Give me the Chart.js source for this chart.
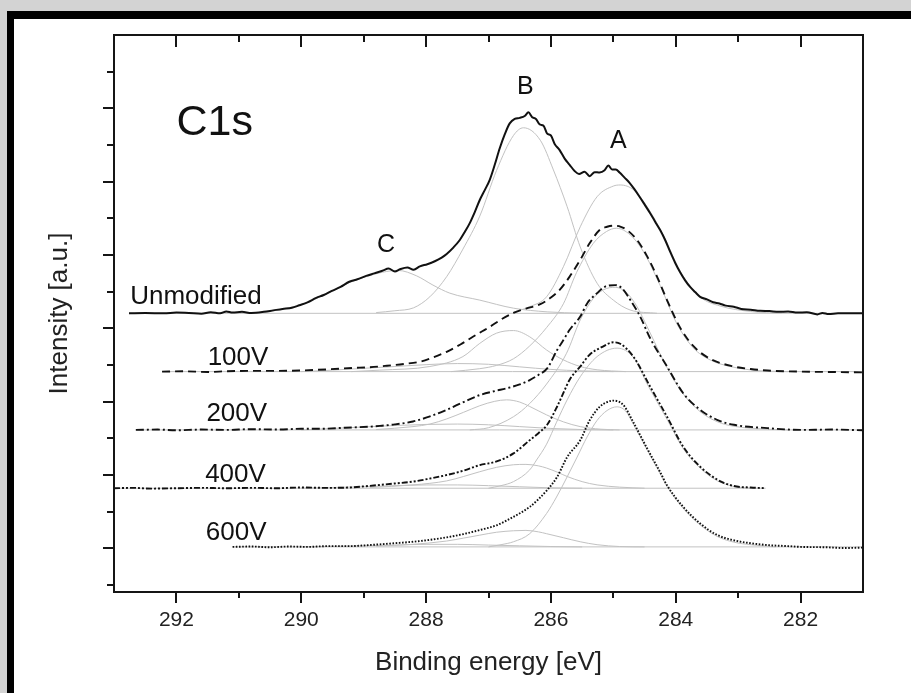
<!DOCTYPE html>
<html>
<head>
<meta charset="utf-8">
<script src="https://cdn.jsdelivr.net/npm/chart.js@4.4.1/dist/chart.umd.min.js"></script>
<style>
  html, body { margin: 0; padding: 0; background: #d3d3d3; }
  canvas { display: block; }
</style>
</head>
<body>
<canvas id="xps" width="911" height="693"></canvas>
<script>
// C1s spectra, binding energy [eV] vs intensity above each baseline [a.u.]
const spectrumNames = ['Unmodified', '100V', '200V', '400V', '600V'];
const spectrumOffsets = [6.41, 4.82, 3.23, 1.64, 0.04];
const peakNames = ['A', 'B', 'C'];
const xTickValues = [282, 284, 286, 288, 290, 292];

const unmodData = [
  [292.76, 0.00], [292.5, 0.01], [292.2, 0.00], [292.0, 0.02], [291.8, 0.01], [291.6, -0.01],
  [291.45, 0.03], [291.3, 0.00], [291.2, 0.05], [291.1, 0.02], [290.95, 0.04], [290.8, 0.01],
  [290.6, 0.04], [290.45, 0.08], [290.3, 0.12], [290.15, 0.15], [290.03, 0.22], [289.9, 0.30],
  [289.76, 0.42], [289.64, 0.50], [289.51, 0.61], [289.37, 0.72], [289.23, 0.86], [289.1, 0.93],
  [288.96, 1.02], [288.83, 1.09], [288.7, 1.16], [288.6, 1.22], [288.5, 1.14], [288.42, 1.20],
  [288.3, 1.25], [288.2, 1.19], [288.1, 1.28], [287.98, 1.34], [287.86, 1.42], [287.75, 1.52],
  [287.67, 1.62], [287.56, 1.80], [287.46, 2.00], [287.38, 2.22], [287.3, 2.46], [287.22, 2.76],
  [287.14, 3.09], [287.06, 3.36], [286.98, 3.64], [286.9, 4.05], [286.82, 4.50], [286.74, 4.88],
  [286.66, 5.18], [286.58, 5.30], [286.5, 5.33], [286.42, 5.38], [286.36, 5.48], [286.3, 5.35],
  [286.24, 5.30], [286.18, 5.15], [286.12, 5.12], [286.06, 4.90], [286.0, 4.85], [285.94, 4.62],
  [285.86, 4.45], [285.78, 4.22], [285.7, 4.05], [285.62, 3.88], [285.55, 3.80], [285.46, 3.86],
  [285.38, 3.74], [285.3, 3.85], [285.22, 3.84], [285.14, 3.90], [285.08, 4.03], [285.02, 3.92],
  [284.96, 3.92], [284.9, 3.84], [284.82, 3.70], [284.74, 3.56], [284.66, 3.38], [284.58, 3.18],
  [284.5, 2.97], [284.41, 2.73], [284.33, 2.50], [284.25, 2.27], [284.17, 2.00], [284.09, 1.68],
  [284.01, 1.38], [283.93, 1.12], [283.85, 0.90], [283.77, 0.72], [283.69, 0.58], [283.61, 0.45],
  [283.5, 0.38], [283.4, 0.30], [283.3, 0.27], [283.2, 0.21], [283.07, 0.18], [282.95, 0.12],
  [282.8, 0.10], [282.65, 0.07], [282.5, 0.06], [282.35, 0.04], [282.2, 0.05], [282.05, 0.02],
  [281.9, 0.03], [281.73, -0.03], [281.65, 0.01], [281.55, -0.02], [281.4, 0.00], [281.2, 0.00], [281.0, 0.00]
];
const unmodFitA = [
  [286.6, 0.03], [286.34, 0.18], [286.07, 0.45], [285.8, 1.27], [285.53, 2.36], [285.26, 3.18],
  [285.0, 3.47], [284.89, 3.50], [284.67, 3.36], [284.46, 2.91], [284.19, 2.10], [283.93, 1.15],
  [283.61, 0.45], [283.29, 0.20], [282.8, 0.05], [282.3, 0.00]
];
const unmodFitB = [
  [288.8, 0.02], [288.5, 0.07], [288.2, 0.15], [287.94, 0.45], [287.67, 1.00], [287.41, 1.75],
  [287.14, 2.65], [286.87, 3.90], [286.6, 4.85], [286.44, 5.06], [286.17, 4.72], [285.96, 3.91],
  [285.74, 2.91], [285.53, 1.81], [285.26, 0.82], [285.0, 0.36], [284.73, 0.09], [284.3, 0.00]
];
const unmodFitC = [
  [291.0, 0.00], [290.56, 0.03], [290.3, 0.12], [290.03, 0.22], [289.76, 0.40], [289.51, 0.60],
  [289.23, 0.84], [288.96, 1.00], [288.7, 1.12], [288.45, 1.17], [288.15, 1.02], [287.89, 0.77],
  [287.62, 0.55], [287.14, 0.36], [286.6, 0.14], [286.06, 0.04], [285.5, 0.00]
];

const v100Data = [
  [292.23, 0.00], [291.9, 0.01], [291.5, -0.01], [291.2, 0.01], [290.83, 0.02], [290.4, 0.02],
  [290.03, 0.03], [289.6, 0.06], [289.18, 0.10], [288.9, 0.12], [288.63, 0.16], [288.35, 0.21],
  [288.1, 0.27], [287.9, 0.38], [287.67, 0.54], [287.45, 0.74], [287.25, 0.95], [287.1, 1.10],
  [286.98, 1.22], [286.8, 1.42], [286.6, 1.60], [286.4, 1.72], [286.17, 1.84], [286.0, 2.02],
  [285.86, 2.23], [285.7, 2.59], [285.53, 3.05], [285.38, 3.50], [285.22, 3.86], [285.1, 3.95],
  [285.0, 3.98], [284.88, 3.95], [284.78, 3.86], [284.62, 3.59], [284.46, 3.15], [284.3, 2.59],
  [284.14, 1.95], [283.93, 1.20], [283.72, 0.70], [283.45, 0.35], [283.07, 0.14], [282.8, 0.07],
  [282.53, 0.03], [282.0, 0.00], [281.5, -0.01], [281.0, -0.02]
];
const v100FitA = [
  [287.6, 0.00], [287.14, 0.08], [286.87, 0.17], [286.6, 0.35], [286.34, 0.70], [286.07, 1.20],
  [285.8, 1.85], [285.59, 2.70], [285.32, 3.50], [285.11, 3.82], [284.95, 3.91], [284.73, 3.73],
  [284.52, 3.28], [284.25, 2.35], [283.98, 1.30], [283.72, 0.65], [283.45, 0.32], [283.1, 0.13],
  [282.7, 0.03], [282.2, 0.00]
];
const v100FitB = [
  [289.2, 0.00], [288.74, 0.04], [287.94, 0.14], [287.41, 0.41], [287.14, 0.77], [286.87, 1.05],
  [286.6, 1.12], [286.34, 0.95], [286.07, 0.59], [285.8, 0.32], [285.53, 0.14], [285.26, 0.05], [284.8, 0.00]
];
const v100FitC = [
  [290.0, 0.00], [289.5, 0.04], [289.0, 0.09], [288.5, 0.14], [288.0, 0.19], [287.5, 0.22],
  [287.0, 0.20], [286.5, 0.13], [286.0, 0.06], [285.5, 0.02], [285.0, 0.00]
];

const v200Data = [
  [292.65, 0.00], [292.3, 0.01], [292.0, -0.01], [291.6, 0.01], [291.2, 0.00], [290.8, 0.02],
  [290.4, 0.01], [290.0, 0.03], [289.71, 0.03], [289.3, 0.06], [288.9, 0.09], [288.74, 0.11],
  [288.5, 0.15], [288.21, 0.23], [287.95, 0.36], [287.67, 0.55], [287.4, 0.76], [287.14, 0.95],
  [286.9, 1.06], [286.7, 1.14], [286.5, 1.24], [286.34, 1.36], [286.2, 1.50], [286.06, 1.68],
  [285.9, 2.18], [285.8, 2.45], [285.7, 2.73], [285.53, 3.09], [285.42, 3.45], [285.26, 3.73],
  [285.13, 3.91], [284.97, 3.95], [284.86, 3.86], [284.73, 3.55], [284.57, 3.09], [284.41, 2.50],
  [284.14, 1.73], [283.88, 1.00], [283.61, 0.55], [283.33, 0.27], [283.07, 0.14], [282.53, 0.05],
  [282.0, 0.00], [281.5, 0.01], [281.0, -0.01]
];
const v200FitA = [
  [287.3, 0.00], [287.0, 0.06], [286.6, 0.36], [286.34, 0.72], [286.07, 1.25], [285.75, 2.09],
  [285.53, 3.00], [285.32, 3.59], [285.16, 3.82], [284.97, 3.89], [284.78, 3.73], [284.62, 3.36],
  [284.46, 2.82], [284.14, 1.70], [283.88, 0.98], [283.61, 0.50], [283.33, 0.22], [283.07, 0.10],
  [282.53, 0.02], [282.2, 0.00]
];
const v200FitB = [
  [288.8, 0.01], [288.21, 0.09], [287.94, 0.16], [287.67, 0.30], [287.4, 0.48], [287.14, 0.66],
  [286.9, 0.78], [286.71, 0.82], [286.5, 0.76], [286.34, 0.64], [286.07, 0.41], [285.8, 0.22],
  [285.53, 0.09], [285.2, 0.02], [284.9, 0.00]
];
const v200FitC = [
  [290.0, 0.00], [289.5, 0.04], [289.0, 0.08], [288.5, 0.12], [288.0, 0.15], [287.5, 0.16],
  [287.0, 0.14], [286.5, 0.09], [286.0, 0.04], [285.5, 0.01], [285.0, 0.00]
];

const v400Data = [
  [293.0, 0.00], [292.7, 0.01], [292.4, -0.01], [292.0, 0.00], [291.6, 0.01], [291.2, 0.00],
  [290.8, 0.01], [290.4, 0.00], [290.0, 0.02], [289.6, 0.01], [289.23, 0.02], [289.0, 0.05],
  [288.74, 0.09], [288.5, 0.13], [288.21, 0.18], [287.95, 0.26], [287.67, 0.36], [287.4, 0.48],
  [287.14, 0.63], [286.87, 0.73], [286.6, 0.95], [286.34, 1.31], [286.2, 1.50], [286.06, 1.73],
  [285.9, 2.23], [285.8, 2.60], [285.7, 2.96], [285.53, 3.32], [285.38, 3.64], [285.16, 3.87],
  [285.0, 3.98], [284.89, 3.94], [284.68, 3.59], [284.41, 2.77], [284.14, 1.95], [283.88, 1.13],
  [283.61, 0.59], [283.33, 0.23], [283.07, 0.06], [282.8, 0.02], [282.56, 0.00]
];
const v400FitA = [
  [287.0, 0.00], [286.8, 0.07], [286.6, 0.18], [286.34, 0.50], [286.23, 0.77], [286.07, 1.20],
  [285.91, 1.80], [285.74, 2.41], [285.53, 3.04], [285.26, 3.59], [284.94, 3.82], [284.67, 3.55],
  [284.46, 2.85], [284.14, 1.88], [283.88, 1.08], [283.61, 0.55], [283.33, 0.20], [283.07, 0.05], [282.8, 0.00]
];
const v400FitB = [
  [288.9, 0.02], [288.21, 0.09], [287.67, 0.20], [287.4, 0.32], [287.14, 0.45], [286.87, 0.57],
  [286.6, 0.64], [286.4, 0.65], [286.2, 0.61], [286.07, 0.55], [285.9, 0.44], [285.74, 0.32],
  [285.5, 0.18], [285.26, 0.09], [284.9, 0.03], [284.5, 0.00]
];
const v400FitC = [
  [290.0, 0.00], [289.0, 0.04], [288.5, 0.07], [288.0, 0.09], [287.5, 0.09], [287.0, 0.07],
  [286.5, 0.04], [286.0, 0.01], [285.5, 0.00]
];

const v600Data = [
  [291.1, 0.00], [290.8, 0.01], [290.5, -0.01], [290.2, 0.01], [289.9, 0.00], [289.6, 0.02],
  [289.23, 0.02], [289.0, 0.04], [288.74, 0.07], [288.5, 0.10], [288.21, 0.14], [287.95, 0.19],
  [287.67, 0.26], [287.4, 0.35], [287.14, 0.46], [286.87, 0.59], [286.6, 0.82], [286.34, 1.09],
  [286.2, 1.30], [286.06, 1.55], [285.9, 1.91], [285.74, 2.45], [285.53, 2.91], [285.38, 3.45],
  [285.22, 3.82], [285.1, 3.95], [285.0, 3.99], [284.84, 3.87], [284.68, 3.40], [284.46, 2.69],
  [284.25, 2.04], [284.14, 1.68], [283.88, 1.09], [283.61, 0.64], [283.33, 0.32], [283.07, 0.18],
  [282.8, 0.10], [282.53, 0.05], [282.2, 0.02], [282.0, 0.00], [281.6, -0.01], [281.3, -0.03], [281.0, -0.02]
];
const v600FitA = [
  [287.0, 0.00], [286.8, 0.06], [286.6, 0.14], [286.34, 0.36], [286.07, 0.91], [285.91, 1.36],
  [285.74, 1.91], [285.58, 2.45], [285.42, 3.00], [285.26, 3.45], [285.1, 3.72], [284.94, 3.82],
  [284.8, 3.70], [284.68, 3.35], [284.46, 2.65], [284.25, 2.00], [284.14, 1.65], [283.88, 1.05],
  [283.61, 0.60], [283.33, 0.28], [283.07, 0.13], [282.8, 0.06], [282.4, 0.00]
];
const v600FitB = [
  [288.8, 0.02], [288.21, 0.07], [287.67, 0.16], [287.4, 0.24], [287.14, 0.32], [286.87, 0.40],
  [286.6, 0.44], [286.4, 0.45], [286.2, 0.41], [286.07, 0.36], [285.8, 0.25], [285.53, 0.14],
  [285.26, 0.06], [284.9, 0.01], [284.5, 0.00]
];
const v600FitC = [
  [290.0, 0.00], [289.0, 0.03], [288.5, 0.05], [288.0, 0.07], [287.5, 0.07], [287.0, 0.05],
  [286.5, 0.03], [286.0, 0.01], [285.5, 0.00]
];

const spectra = [unmodData, v100Data, v200Data, v400Data, v600Data];
const fits = [
  [unmodFitA, unmodFitB, unmodFitC],
  [v100FitA, v100FitB, v100FitC],
  [v200FitA, v200FitB, v200FitC],
  [v400FitA, v400FitB, v400FitC],
  [v600FitA, v600FitB, v600FitC]
];

// line styles for the measured curves
const dashes = [[], [8, 5], [8, 3, 2, 3], [6, 2, 2, 2, 2, 2], [1.6, 1.6]];
const FONT = '"Liberation Sans", Arial, sans-serif';

function toPoints(pairs, offset) {
  return pairs.map(p => ({ x: p[0], y: p[1] + offset }));
}

const datasets = [];
spectra.forEach((data, i) => {
  const off = spectrumOffsets[i];
  datasets.push({
    label: spectrumNames[i],
    data: toPoints(data, off),
    borderColor: '#111',
    borderWidth: i === 0 ? 2 : 1.9,
    borderDash: dashes[i],
    order: 0
  });
  // baseline
  datasets.push({
    data: [{ x: data[0][0], y: off }, { x: data[data.length - 1][0], y: off }],
    borderColor: '#c2c2c2',
    borderWidth: 1,
    order: 1
  });
  fits[i].forEach(f => {
    datasets.push({
      data: toPoints(f, off),
      borderColor: '#c2c2c2',
      borderWidth: 1,
      order: 1
    });
  });
});

// frame, tick marks and in-plot labels
const decorPlugin = {
  id: 'decor',
  beforeDraw(chart) {
    const c = chart.ctx;
    c.save();
    c.fillStyle = '#d3d3d3';
    c.fillRect(0, 0, chart.width, chart.height);
    c.fillStyle = '#000';
    c.fillRect(7, 11, chart.width, chart.height);
    c.fillStyle = '#fff';
    c.fillRect(14, 19, chart.width, chart.height);
    c.restore();
  },
  afterDatasetsDraw(chart) {
    const c = chart.ctx;
    const a = chart.chartArea;
    const x = chart.scales.x, y = chart.scales.y;
    c.save();
    c.strokeStyle = '#151515';
    c.lineWidth = 2;
    c.strokeRect(a.left, a.top, a.right - a.left, a.bottom - a.top);
    c.beginPath();
    for (let v = 282; v <= 292; v++) {
      const px = Math.round(x.getPixelForValue(v));
      const major = v % 2 === 0;
      c.moveTo(px, a.bottom);
      c.lineTo(px, a.bottom + (major ? 11 : 6));
      c.moveTo(px, a.top);
      c.lineTo(px, a.top + (major ? 12 : 7));
    }
    for (let v = -1; v <= 13; v++) {
      const py = Math.round(y.getPixelForValue(v));
      const major = v % 2 === 0;
      c.moveTo(a.left, py);
      c.lineTo(a.left - (major ? 11 : 7), py);
    }
    c.stroke();

    c.fillStyle = '#111';
    c.textBaseline = 'alphabetic';
    c.font = '43px ' + FONT;
    c.textAlign = 'left';
    c.fillText('C1s', x.getPixelForValue(292.0), y.getPixelForValue(11.27));

    c.font = '25px ' + FONT;
    c.textAlign = 'center';
    const peakPos = [[284.92, 10.92], [286.41, 12.38], [288.64, 8.08]];
    peakNames.forEach((t, i) => {
      c.fillText(t, x.getPixelForValue(peakPos[i][0]), y.getPixelForValue(peakPos[i][1]));
    });

    c.font = '26px ' + FONT;
    c.textAlign = 'left';
    const namePos = [[292.74, 6.66], [291.50, 5.0], [291.52, 3.48], [291.54, 1.82], [291.53, 0.23]];
    spectrumNames.forEach((t, i) => {
      c.fillText(t, x.getPixelForValue(namePos[i][0]), y.getPixelForValue(namePos[i][1]));
    });
    c.restore();
  }
};

new Chart(document.getElementById('xps'), {
  type: 'line',
  data: { datasets: datasets },
  options: {
    responsive: false,
    animation: false,
    events: [],
    layout: { padding: { left: 0, top: 35, right: 48, bottom: 0 } },
    elements: {
      point: { radius: 0 },
      line: { cubicInterpolationMode: 'monotone', fill: false }
    },
    plugins: { legend: { display: false }, tooltip: { enabled: false } },
    scales: {
      x: {
        type: 'linear',
        reverse: true,
        min: 281,
        max: 293,
        afterBuildTicks: s => { s.ticks = xTickValues.map(v => ({ value: v })); },
        afterFit: s => { s.height = 101; },
        grid: { display: false, drawTicks: false },
        border: { display: false },
        ticks: { padding: 16, color: '#222', font: { family: FONT, size: 21 } },
        title: {
          display: true,
          text: 'Binding energy [eV]',
          color: '#222',
          font: { family: FONT, size: 26 },
          padding: { top: 4, bottom: 15 }
        }
      },
      y: {
        type: 'linear',
        min: -1.19,
        max: 14,
        afterFit: s => { s.width = 114; },
        grid: { display: false, drawTicks: false },
        border: { display: false },
        ticks: { display: false },
        title: {
          display: true,
          text: 'Intensity [a.u.]',
          color: '#222',
          font: { family: FONT, size: 26 },
          padding: { top: 44, bottom: 0 }
        }
      }
    }
  },
  plugins: [decorPlugin]
});
</script>
</body>
</html>
